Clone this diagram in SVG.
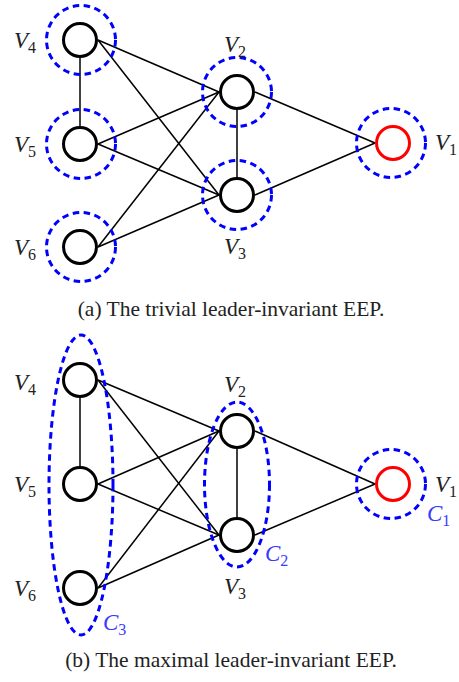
<svg xmlns="http://www.w3.org/2000/svg" width="459" height="682" viewBox="0 0 459 682">
<style>
.node{fill:none;stroke:#000;stroke-width:3}
.leader{fill:none;stroke:#ff0000;stroke-width:3}
.cell{fill:none;stroke:#0000ff;stroke-width:3;stroke-dasharray:6.5 4.5}
.edge{stroke:#000;stroke-width:1.5;fill:none}
.lbl{font-family:"Liberation Serif","Times New Roman",serif;font-size:23px;font-style:italic;fill:#222}
.sub{font-style:normal;font-size:16px}
.clbl{font-family:"Liberation Serif","Times New Roman",serif;font-size:23px;font-style:italic;fill:#3a3aff}
.cap{font-family:"Liberation Serif","Times New Roman",serif;font-size:21.5px;fill:#222;text-anchor:middle}
</style>
<rect width="459" height="682" fill="#fff"/>

<!-- (a) -->
<g id="a-connectors">
<line class="edge" x1="98" y1="40" x2="219" y2="92"/>
<line class="edge" x1="98" y1="40" x2="219" y2="195"/>
<line class="edge" x1="98" y1="144" x2="219" y2="92"/>
<line class="edge" x1="98" y1="144" x2="219" y2="195"/>
<line class="edge" x1="98" y1="247" x2="219" y2="92"/>
<line class="edge" x1="98" y1="247" x2="219" y2="195"/>
<line class="edge" x1="80" y1="58" x2="80" y2="126"/>
<line class="edge" x1="237" y1="110" x2="237" y2="177"/>
<line class="edge" x1="255" y1="92" x2="375" y2="143"/>
<line class="edge" x1="255" y1="195" x2="375" y2="143"/>
</g>
<g id="a-V4"><circle class="node" cx="80" cy="40" r="16.5"/><circle class="cell" cx="81" cy="40" r="34.5"/><text class="lbl" x="14" y="48">V<tspan class="sub" dy="5">4</tspan></text></g>
<g id="a-V5"><circle class="node" cx="80" cy="144" r="16.5"/><circle class="cell" cx="81" cy="144" r="34.5"/><text class="lbl" x="14" y="152">V<tspan class="sub" dy="5">5</tspan></text></g>
<g id="a-V6"><circle class="node" cx="80" cy="247" r="16.5"/><circle class="cell" cx="81" cy="247" r="34.5"/><text class="lbl" x="14" y="255">V<tspan class="sub" dy="5">6</tspan></text></g>
<g id="a-V2"><circle class="node" cx="237" cy="92" r="16.5"/><circle class="cell" cx="237" cy="92" r="34.5"/><text class="lbl" x="224" y="52">V<tspan class="sub" dy="5">2</tspan></text></g>
<g id="a-V3"><circle class="node" cx="237" cy="195" r="16.5"/><circle class="cell" cx="237" cy="195" r="34.5"/><text class="lbl" x="224" y="254">V<tspan class="sub" dy="5">3</tspan></text></g>
<g id="a-V1"><circle class="leader" cx="393" cy="143" r="16.5"/><circle class="cell" cx="391" cy="143" r="34.5"/><text class="lbl" x="435" y="150">V<tspan class="sub" dy="5">1</tspan></text></g>
<text class="cap" x="231" y="316">(a) The trivial leader-invariant EEP.</text>

<!-- (b) -->
<g id="b-connectors">
<line class="edge" x1="98" y1="380" x2="219" y2="431"/>
<line class="edge" x1="98" y1="380" x2="219" y2="535"/>
<line class="edge" x1="98" y1="484" x2="219" y2="431"/>
<line class="edge" x1="98" y1="484" x2="219" y2="535"/>
<line class="edge" x1="98" y1="588" x2="219" y2="431"/>
<line class="edge" x1="98" y1="588" x2="219" y2="535"/>
<line class="edge" x1="80" y1="398" x2="80" y2="466"/>
<line class="edge" x1="237" y1="449" x2="237" y2="517"/>
<line class="edge" x1="255" y1="431" x2="375" y2="484"/>
<line class="edge" x1="255" y1="535" x2="375" y2="484"/>
</g>
<g id="b-V4"><circle class="node" cx="80" cy="380" r="16.5"/><text class="lbl" x="14" y="390">V<tspan class="sub" dy="5">4</tspan></text></g>
<g id="b-V5"><circle class="node" cx="80" cy="484" r="16.5"/><text class="lbl" x="14" y="492">V<tspan class="sub" dy="5">5</tspan></text></g>
<g id="b-V6"><circle class="node" cx="80" cy="588" r="16.5"/><text class="lbl" x="14" y="596">V<tspan class="sub" dy="5">6</tspan></text></g>
<g id="b-V2"><circle class="node" cx="237" cy="431" r="16.5"/><text class="lbl" x="224" y="392">V<tspan class="sub" dy="5">2</tspan></text></g>
<g id="b-V3"><circle class="node" cx="237" cy="535" r="16.5"/><text class="lbl" x="224" y="594">V<tspan class="sub" dy="5">3</tspan></text></g>
<g id="b-V1"><circle class="leader" cx="393" cy="484" r="16.5"/><text class="lbl" x="435" y="492">V<tspan class="sub" dy="5">1</tspan></text></g>
<g id="b-C1"><circle class="cell" cx="391" cy="484" r="34.5"/><text class="clbl" x="427" y="521">C<tspan class="sub" dy="5">1</tspan></text></g>
<g id="b-C2"><ellipse class="cell" cx="237" cy="484.5" rx="32.5" ry="82.5"/><text class="clbl" x="265" y="561">C<tspan class="sub" dy="5">2</tspan></text></g>
<g id="b-C3"><ellipse class="cell" cx="81" cy="485" rx="32" ry="150"/><text class="clbl" x="103" y="630">C<tspan class="sub" dy="5">3</tspan></text></g>
<text class="cap" x="231" y="667">(b) The maximal leader-invariant EEP.</text>
</svg>
